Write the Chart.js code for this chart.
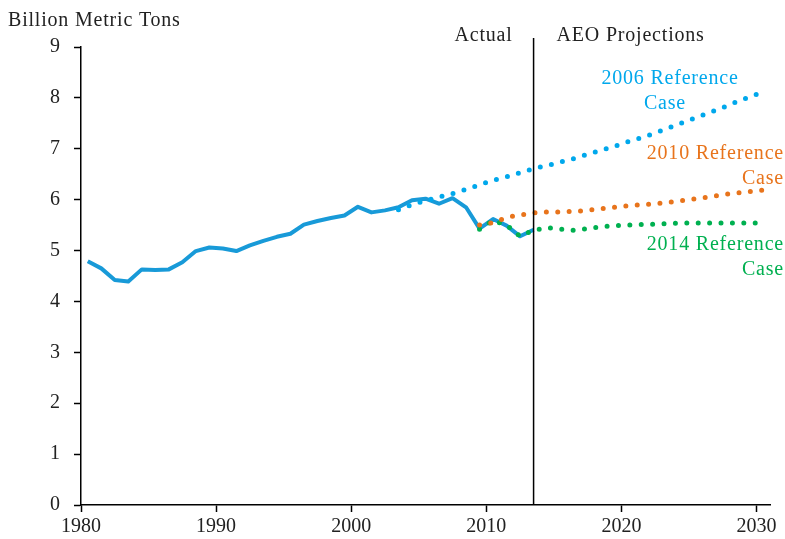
<!DOCTYPE html>
<html>
<head>
<meta charset="utf-8">
<script src="https://cdn.jsdelivr.net/npm/chart.js@4/dist/chart.umd.min.js"></script>
<style>
  html, body { margin: 0; padding: 0; background: #fff; }
  #wrap { width: 785px; height: 539px; }
</style>
</head>
<body>
<div id="wrap"><canvas id="co2_chart"></canvas></div>
<script>
// actual emissions, 1980-2013
var actual_years = [1980, 1981, 1982, 1983, 1984, 1985, 1986, 1987, 1988, 1989,
                    1990, 1991, 1992, 1993, 1994, 1995, 1996, 1997, 1998, 1999,
                    2000, 2001, 2002, 2003, 2004, 2005, 2006, 2007, 2008, 2009,
                    2010, 2011, 2012, 2013];
var actual_values = [4.79, 4.65, 4.42, 4.39, 4.63, 4.62, 4.63, 4.77, 4.99, 5.06,
                     5.04, 4.99, 5.10, 5.19, 5.27, 5.33, 5.51, 5.58, 5.64, 5.69,
                     5.86, 5.75, 5.79, 5.85, 5.99, 6.02, 5.92, 6.03, 5.85, 5.43,
                     5.62, 5.49, 5.28, 5.41];

// AEO 2006 reference case, 2003-2030
var ref2006_years = [2003, 2004, 2005, 2006, 2007, 2008, 2009, 2010, 2011, 2012,
                     2013, 2014, 2015, 2016, 2017, 2018, 2019, 2020, 2021, 2022,
                     2023, 2024, 2025, 2026, 2027, 2028, 2029, 2030];
var ref2006_values = [5.80, 5.90, 5.98, 6.05, 6.12, 6.20, 6.29, 6.38, 6.45, 6.53,
                      6.61, 6.67, 6.74, 6.81, 6.89, 6.97, 7.05, 7.14, 7.22, 7.31,
                      7.41, 7.51, 7.61, 7.71, 7.81, 7.92, 8.02, 8.12];

// AEO 2010 reference case, 2009-2030
var ref2010_years = [2009, 2010, 2011, 2012, 2013, 2014, 2015, 2016, 2017, 2018,
                     2019, 2020, 2021, 2022, 2023, 2024, 2025, 2026, 2027, 2028,
                     2029, 2030];
var ref2010_values = [5.50, 5.55, 5.65, 5.70, 5.74, 5.76, 5.76, 5.77, 5.79, 5.82,
                      5.85, 5.88, 5.90, 5.92, 5.95, 5.98, 6.02, 6.05, 6.10, 6.13,
                      6.16, 6.19];

// AEO 2014 reference case, 2009-2030
var ref2014_years = [2009, 2010, 2011, 2012, 2013, 2014, 2015, 2016, 2017, 2018,
                     2019, 2020, 2021, 2022, 2023, 2024, 2025, 2026, 2027, 2028,
                     2029, 2030];
var ref2014_values = [5.42, 5.59, 5.50, 5.28, 5.40, 5.45, 5.42, 5.40, 5.43, 5.47,
                      5.49, 5.50, 5.51, 5.52, 5.53, 5.54, 5.54, 5.54, 5.54, 5.54,
                      5.54, 5.54];

var x_ticks = [1980, 1990, 2000, 2010, 2020, 2030];
var y_ticks = [0, 1, 2, 3, 4, 5, 6, 7, 8, 9];
var split_year = 2013; // last actual year, where projections start

// yearly values sit at the middle of each year on the date axis
function toPoints(years, values) {
    var pts = [];
    for (let i = 0; i < years.length; i++) {
        pts.push({ x: years[i] + 0.5, y: values[i] });
    }
    return pts;
}

var color_actual = '#189ad8';
var color_2006 = '#00a8ec';
var color_2010 = '#e8741c';
var color_2014 = '#00b050';

function dotted(label, pts, color, order) {
    return {
        label: label,
        data: pts,
        borderColor: color,
        backgroundColor: color,
        borderWidth: 5,
        borderDash: [0, 11.4],
        borderCapStyle: 'round',
        pointRadius: 0,
        tension: 0,
        order: order
    };
}

const annotations = {
    id: 'annotations',
    afterDraw(chart) {
        const ctx = chart.ctx;
        const xs = chart.scales.x;
        const ys = chart.scales.y;
        const lineX = xs.getPixelForValue(split_year + 0.5);
        ctx.save();
        // divider between actual and projections
        ctx.strokeStyle = '#000';
        ctx.lineWidth = 1.5;
        ctx.beginPath();
        ctx.moveTo(lineX, 38);
        ctx.lineTo(lineX, ys.getPixelForValue(0));
        ctx.stroke();

        ctx.font = '20px "Liberation Serif"';
        ctx.letterSpacing = '0.8px';
        ctx.fillStyle = '#222';
        ctx.textBaseline = 'middle';
        ctx.textAlign = 'left';
        ctx.fillText('Billion Metric Tons', 8, 21);
        ctx.textAlign = 'right';
        ctx.fillText('Actual', lineX - 21, 36);
        ctx.textAlign = 'left';
        ctx.fillText('AEO Projections', lineX + 23, 36);

        ctx.fillStyle = color_2006;
        ctx.textAlign = 'center';
        ctx.fillText('2006 Reference', 670, 79);
        ctx.fillText('Case', 665, 104);

        ctx.fillStyle = color_2010;
        ctx.textAlign = 'right';
        ctx.fillText('2010 Reference', 784, 154);
        ctx.fillText('Case', 784, 179);

        ctx.fillStyle = color_2014;
        ctx.fillText('2014 Reference', 784, 245);
        ctx.fillText('Case', 784, 270);
        ctx.restore();
    }
};

Chart.defaults.font.family = '"Liberation Serif", "Times New Roman", serif';
Chart.defaults.font.size = 20;
Chart.defaults.color = '#222';

const config = {
    type: 'line',
    data: {
        datasets: [
            dotted('2006 Reference Case', toPoints(ref2006_years, ref2006_values), color_2006, 1),
            dotted('2010 Reference Case', toPoints(ref2010_years, ref2010_values), color_2010, 2),
            dotted('2014 Reference Case', toPoints(ref2014_years, ref2014_values), color_2014, 3),
            {
                label: 'Actual',
                data: toPoints(actual_years, actual_values),
                borderColor: color_actual,
                borderWidth: 4,
                borderJoinStyle: 'round',
                pointRadius: 0,
                tension: 0,
                order: 4
            }
        ]
    },
    options: {
        responsive: true,
        maintainAspectRatio: false,
        animation: false,
        layout: {
            padding: { left: 0, top: 47, right: 15, bottom: 0 }
        },
        scales: {
            x: {
                type: 'linear',
                min: 1980,
                max: 2031,
                afterBuildTicks: function (scale) {
                    scale.ticks = x_ticks.map(v => ({ value: v }));
                },
                afterFit: function (scale) { scale.height = 34; },
                ticks: {
                    callback: v => String(v),
                    padding: 3,
                    maxRotation: 0,
                    color: '#222'
                },
                grid: {
                    drawOnChartArea: false,
                    tickLength: 7,
                    tickColor: '#000',
                    tickWidth: 1.5
                },
                border: { color: '#000', width: 1.5 }
            },
            y: {
                min: 0,
                max: 9,
                afterBuildTicks: function (scale) {
                    scale.ticks = y_ticks.map(v => ({ value: v }));
                },
                afterFit: function (scale) { scale.width = 81; },
                ticks: {
                    padding: 14,
                    color: '#222'
                },
                grid: {
                    drawOnChartArea: false,
                    tickLength: 7,
                    tickColor: '#000',
                    tickWidth: 1.5
                },
                border: { color: '#000', width: 1.5 }
            }
        },
        plugins: {
            legend: { display: false },
            tooltip: { enabled: false }
        }
    },
    plugins: [annotations]
};

const myChart = new Chart(document.getElementById('co2_chart'), config);
</script>
</body>
</html>
